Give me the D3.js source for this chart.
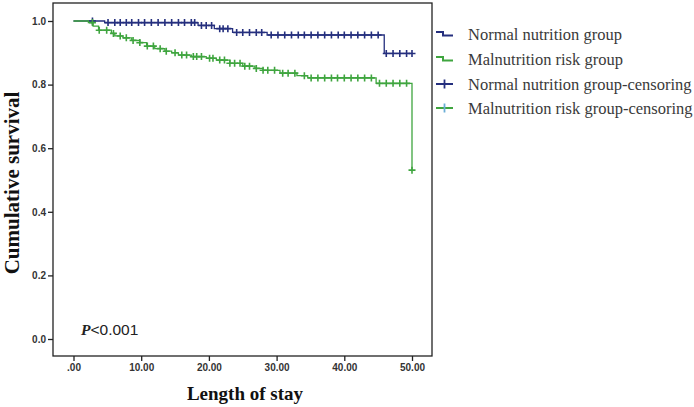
<!DOCTYPE html>
<html><head><meta charset="utf-8">
<script src="https://cdn.jsdelivr.net/npm/d3@7"></script>
<style>html,body{margin:0;padding:0;background:#fff;}svg{display:block;}</style>
</head><body>
<svg id="chart" width="694" height="407"></svg>
<script>
const xTicks = [0, 10, 20, 30, 40, 50];
const yTicks = [0, 0.2, 0.4, 0.6, 0.8, 1.0];

const normalTimes = [0, 4.6, 18.4, 20.8, 23.5, 28.6, 45.9, 50];
const normalSurv  = [1.0, 0.995, 0.986, 0.976, 0.964, 0.956, 0.898, 0.898];
const normalCensor = [2.8, 5.1, 6.1, 6.9, 7.8, 8.6, 9.6, 10.5, 11.5, 12.5, 13.5, 14.5, 15.5, 16.4, 17.4, 17.9,
  18.9, 19.6, 20.4, 21.6, 22.1, 22.8, 24.1, 25.0, 26.0, 27.0, 27.8, 29.2, 30.2, 31.2, 32.2, 33.2, 34.1, 35.1,
  36.1, 37.1, 38.1, 39.1, 40.0, 41.0, 42.0, 43.0, 44.0, 45.0, 46.2, 47.2, 48.2, 49.2, 50.0];

const riskTimes = [0, 2.2, 2.9, 3.7, 5.6, 6.1, 7.3, 8.6, 9.8, 10.8, 12.0, 13.5, 14.5, 15.5, 17.4, 19.6, 21.1,
  23.1, 25.0, 26.8, 28.0, 30.5, 33.0, 34.6, 44.7, 50];
const riskSurv = [1.0, 0.995, 0.984, 0.971, 0.961, 0.953, 0.947, 0.939, 0.932, 0.921, 0.913, 0.905, 0.900, 0.893,
  0.888, 0.883, 0.877, 0.867, 0.858, 0.851, 0.845, 0.836, 0.828, 0.821, 0.804, 0.531];
const riskCensor = [2.8, 3.8, 4.9, 5.9, 6.9, 7.8, 8.8, 9.8, 10.9, 11.8, 12.8, 13.7, 15.0, 16.0, 16.7, 17.7, 18.2,
  18.9, 20.1, 20.6, 21.6, 22.3, 23.1, 23.8, 24.6, 25.3, 26.0, 27.0, 28.0, 28.7, 29.7, 30.9, 31.7, 32.7, 34.1,
  35.1, 36.1, 37.1, 38.1, 39.0, 40.0, 41.0, 42.0, 43.0, 44.0, 45.2, 46.2, 47.2, 48.2, 49.2, 50.0];

const legendLabels = ["Normal nutrition group", "Malnutrition risk group",
  "Normal nutrition group-censoring", "Malnutrition risk group-censoring"];

const BLUE = "#252f7e", GREEN = "#3fa53f", LIGHTBLUE = "#6aaed6";

const svg = d3.select("#chart");
const x = d3.scaleLinear().domain([0, 50]).range([73.5, 412]);
const y = d3.scaleLinear().domain([0, 1]).range([339, 21]);

// frame
svg.append("rect").attr("x", 53).attr("y", 3).attr("width", 379).attr("height", 353)
  .attr("fill", "none").attr("stroke", "#222").attr("stroke-width", 1.3);

// axes
const yAxis = svg.append("g").attr("transform", "translate(53,0)")
  .call(d3.axisLeft(y).tickValues(yTicks).tickFormat(d => d.toFixed(1)).tickSize(5).tickPadding(2));
const xAxis = svg.append("g").attr("transform", "translate(0,356)")
  .call(d3.axisBottom(x).tickValues(xTicks).tickFormat(d => d === 0 ? ".00" : d.toFixed(2)).tickSize(5).tickPadding(3));
[yAxis, xAxis].forEach(g => {
  g.select(".domain").remove();
  g.selectAll("line").attr("stroke", "#222").attr("stroke-width", 1.3);
  g.selectAll("text").attr("font-family", "Arial, 'Liberation Sans', sans-serif")
    .attr("font-size", 10).attr("font-weight", 700).attr("fill", "#333");
});

// step function lookup
function survAt(times, surv, t) {
  let v = surv[0];
  for (let i = 0; i < times.length; i++) if (times[i] <= t) v = surv[i];
  return v;
}

const line = d3.line().x(d => x(d[0])).y(d => y(d[1])).curve(d3.curveStepAfter);
const normalPts = normalTimes.map((t, i) => [t, normalSurv[i]]);
const riskPts = riskTimes.map((t, i) => [t, riskSurv[i]]);

const crossPath = "M-3.5,0H3.5M0,-3.5V3.5";

svg.append("path").datum(normalPts).attr("d", line).attr("fill", "none")
  .attr("stroke", BLUE).attr("stroke-width", 1.3);
svg.append("g").selectAll("path").data(normalCensor).join("path")
  .attr("transform", t => `translate(${x(t)},${y(survAt(normalTimes, normalSurv, t))})`)
  .attr("d", crossPath).attr("stroke", BLUE).attr("stroke-width", 1.6).attr("fill", "none");

svg.append("path").datum(riskPts).attr("d", line).attr("fill", "none")
  .attr("stroke", GREEN).attr("stroke-width", 1.3);
svg.append("g").selectAll("path").data(riskCensor).join("path")
  .attr("transform", t => `translate(${x(t)},${y(survAt(riskTimes, riskSurv, t))})`)
  .attr("d", crossPath).attr("stroke", GREEN).attr("stroke-width", 1.6).attr("fill", "none");

// P value
const pt = svg.append("text").attr("x", 81).attr("y", 335).attr("font-size", 15.5).attr("fill", "#222");
pt.append("tspan").attr("font-family", "'Liberation Serif', 'Times New Roman', serif")
  .attr("font-style", "italic").attr("font-weight", 700).text("P");
pt.append("tspan").attr("font-family", "'Liberation Sans', Arial, sans-serif").text("<0.001");

// axis titles
svg.append("text").attr("x", 245).attr("y", 400).attr("text-anchor", "middle")
  .attr("font-family", "'Liberation Serif', 'Times New Roman', serif").attr("font-weight", 700)
  .attr("font-size", 19).attr("fill", "#111").text("Length of stay");
svg.append("text").attr("transform", "translate(19,183) rotate(-90)").attr("text-anchor", "middle")
  .attr("font-family", "'Liberation Serif', 'Times New Roman', serif").attr("font-weight", 700)
  .attr("font-size", 21).attr("fill", "#111").text("Cumulative survival");

// legend
const rowsY = [34, 59, 84, 108];
const lg = svg.append("g");
lg.selectAll("text").data(legendLabels).join("text")
  .attr("x", 468).attr("y", (d, i) => rowsY[i] + 5.5)
  .attr("font-family", "'Liberation Serif', 'Times New Roman', serif")
  .attr("font-size", 16.5).attr("fill", "#3a3a3a").text(d => d);
// step icons
[BLUE, GREEN].forEach((c, i) => {
  const cy = rowsY[i];
  lg.append("path").attr("d", `M436,${cy - 2}H443V${cy + 1.5}H453`)
    .attr("fill", "none").attr("stroke", c).attr("stroke-width", 2);
});
// censor icons
[[BLUE, BLUE], [GREEN, LIGHTBLUE]].forEach((c, j) => {
  const cy = rowsY[2 + j];
  lg.append("path").attr("d", `M436,${cy}H453`).attr("stroke", c[0]).attr("stroke-width", 2);
  lg.append("path").attr("d", `M444.5,${cy - 4.5}V${cy + 4.5}`).attr("stroke", c[1]).attr("stroke-width", 1.8);
});
</script>
</body></html>
